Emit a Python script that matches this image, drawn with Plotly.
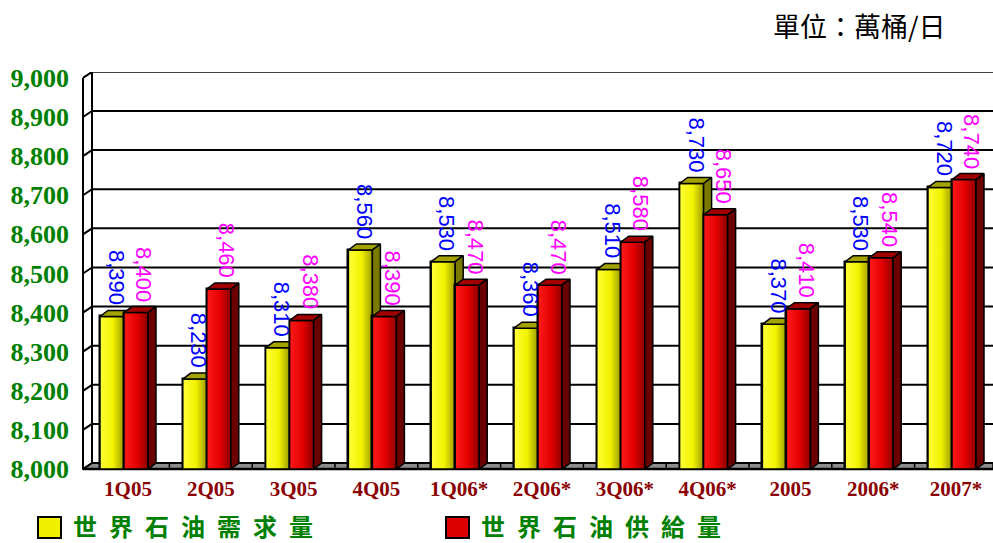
import plotly.graph_objects as go

# ---- data -------------------------------------------------------------
categories = ["1Q05", "2Q05", "3Q05", "4Q05", "1Q06*", "2Q06*", "3Q06*",
              "4Q06*", "2005", "2006*", "2007*"]
demand = [8390, 8230, 8310, 8560, 8530, 8360, 8510, 8730, 8370, 8530, 8720]
supply = [8400, 8460, 8380, 8390, 8470, 8470, 8580, 8650, 8410, 8540, 8740]
y_ticks = [8000, 8100, 8200, 8300, 8400, 8500, 8600, 8700, 8800, 8900, 9000]
series_names = ["世界石油需求量", "世界石油供給量"]
unit_text = "單位：萬桶/日"

# ---- layout geometry --------------------------------------------------
FIG_W, FIG_H = 993, 543
M_L, M_T, PLOT_H = 82, 72, 399
PLOT_W = FIG_W - M_L
M_B = FIG_H - M_T - PLOT_H
CAT_PX = 82.8                       # pixels per category
X_LO = -42 / CAT_PX
X_HI = X_LO + PLOT_W / CAT_PX
Y_LO, Y_HI = 7995, 9015
PX_PER_Y = PLOT_H / (Y_HI - Y_LO)
BASE = 8000

BAR_W = 0.29                        # width of one bar (category units)
DX = 8 / CAT_PX                     # depth offset of bars (x)
DY = 6 / PX_PER_Y                   # depth offset (y)
WALL_FRONT = X_LO + 1 / CAT_PX
WALL_BACK = WALL_FRONT + 9 / CAT_PX

EDGE = "black"


def box_faces(xs, vals, dx, dy):
    """Top and side faces of the 3-D bars as None-separated polygons."""
    top_x, top_y, side_x, side_y = [], [], [], []
    for x0, v in zip(xs, vals):
        x1 = x0 + BAR_W
        top_x += [x0, x1, x1 + dx, x0 + dx, x0, None]
        top_y += [v, v, v + dy, v + dy, v, None]
        side_x += [x1, x1, x1 + dx, x1 + dx, x1, None]
        side_y += [BASE, v, v + dy, BASE + dy, BASE, None]
    return (top_x, top_y), (side_x, side_y)


fig = go.Figure()

series = [
    dict(vals=demand, shift=-BAR_W, front="#eeee00", top="#a3a300",
         side="#7a7a00", label="#0000ff", xa="x", ya="y", lab_dx=4,
         shade=[[0, "#ffff3a"], [0.55, "#f2f200"], [1, "#9c9c00"]]),
    dict(vals=supply, shift=0.0, front="#e00000", top="#a00000",
         side="#6a0000", label="#ff00ff", xa="x2", ya="y2", lab_dx=8,
         shade=[[0, "#ff1a1a"], [0.55, "#e20000"], [1, "#8c0000"]]),
]

for s in series:
    centers = [i + s["shift"] + BAR_W / 2 for i in range(len(categories))]
    lefts = [c - BAR_W / 2 for c in centers]
    fig.add_trace(go.Bar(
        x=centers, y=[v - BASE for v in s["vals"]], base=BASE, width=BAR_W,
        marker=dict(color=s["front"], line=dict(color=EDGE, width=1.5)),
        xaxis=s["xa"], yaxis=s["ya"], showlegend=False, hoverinfo="skip"))
    # shaded front faces, one per bar so each gets its own gradient
    for x0, v in zip(lefts, s["vals"]):
        x1 = x0 + BAR_W
        fig.add_trace(go.Scatter(
            x=[x0, x1, x1, x0, x0], y=[BASE, BASE, v, v, BASE],
            mode="lines", fill="toself",
            fillgradient=dict(type="horizontal", colorscale=s["shade"],
                              start=x0, stop=x1),
            line=dict(color=EDGE, width=1.5), xaxis=s["xa"], yaxis=s["ya"],
            showlegend=False, hoverinfo="skip"))
    (tx, ty), (sx, sy) = box_faces(lefts, s["vals"], DX, DY)
    fig.add_trace(go.Scatter(
        x=tx, y=ty, mode="lines", fill="toself", fillcolor=s["top"],
        line=dict(color=EDGE, width=1.5), xaxis=s["xa"], yaxis=s["ya"],
        showlegend=False, hoverinfo="skip"))
    fig.add_trace(go.Scatter(
        x=sx, y=sy, mode="lines", fill="toself", fillcolor=s["side"],
        line=dict(color=EDGE, width=1.5), xaxis=s["xa"], yaxis=s["ya"],
        showlegend=False, hoverinfo="skip"))
    for c, v in zip(centers, s["vals"]):
        fig.add_annotation(
            x=c, y=v, xref=s["xa"], yref=s["ya"], text=f"{v:,}",
            textangle=90, showarrow=False, xanchor="center", yanchor="bottom",
            xshift=s["lab_dx"], yshift=9,
            font=dict(family="Liberation Sans, Arial", size=22,
                      color=s["label"]))

# ---- walls, floor and gridlines ----------------------------------------
shapes = []
line_k = dict(color=EDGE, width=2)
shapes.append(dict(type="path", xref="x", yref="y", layer="below",
                   path=(f"M{WALL_FRONT},{BASE} L{X_HI},{BASE} "
                         f"L{X_HI},{BASE + DY} L{WALL_BACK},{BASE + DY} Z"),
                   fillcolor="#8c8c8c", line=dict(color=EDGE, width=1.5)))
for t in y_ticks:
    shapes.append(dict(type="line", xref="x", yref="y", layer="below",
                       x0=WALL_BACK, x1=X_HI, y0=t + DY, y1=t + DY,
                       line=line_k))
    shapes.append(dict(type="line", xref="x", yref="y", layer="below",
                       x0=WALL_FRONT, x1=WALL_BACK, y0=t, y1=t + DY,
                       line=line_k))
shapes.append(dict(type="line", xref="x", yref="y", layer="below",
                   x0=WALL_FRONT, x1=WALL_FRONT, y0=BASE, y1=Y_HI - DY,
                   line=line_k))
shapes.append(dict(type="line", xref="x", yref="y", layer="below",
                   x0=WALL_BACK, x1=WALL_BACK, y0=BASE + DY, y1=Y_HI,
                   line=line_k))
shapes.append(dict(type="line", xref="x", yref="y", layer="below",
                   x0=WALL_FRONT, x1=X_HI, y0=BASE, y1=BASE,
                   line=dict(color=EDGE, width=2.5)))
for i in range(len(categories) - 1):
    xm = i + 0.5 + 4 / CAT_PX
    shapes.append(dict(type="line", xref="x", yref="y", layer="below",
                       x0=xm, x1=xm, y0=BASE + DY * 0.2, y1=BASE + DY,
                       line=dict(color=EDGE, width=1.5)))


# ---- legend drawn in page pixels -----------------------------------------
def px_x(p):
    return (p - M_L) / PLOT_W


def px_y(p):
    return (M_T + PLOT_H - p) / PLOT_H


legend_items = [(38, "#f0f000", series_names[0]),
                (446, "#dd0000", series_names[1])]
for x_px, col, name in legend_items:
    shapes.append(dict(type="rect", xref="paper", yref="paper",
                       x0=px_x(x_px), x1=px_x(x_px + 23),
                       y0=px_y(538), y1=px_y(517),
                       fillcolor=col, line=dict(color=EDGE, width=2)))
    fig.add_annotation(
        x=px_x(x_px + 33), y=px_y(525), xref="paper", yref="paper",
        text="\u2002".join(name), showarrow=False, xanchor="left",
        yanchor="middle",
        font=dict(family="Noto Sans CJK TC", size=24, color="#008000",
                  weight="bold"))

fig.add_annotation(
    x=px_x(948), y=px_y(26), xref="paper", yref="paper", text=unit_text,
    showarrow=False, xanchor="right", yanchor="middle",
    font=dict(family="Noto Sans CJK TC", size=27, color="black"))

axis_common = dict(showgrid=False, zeroline=False, showline=False)
fig.update_layout(
    width=FIG_W, height=FIG_H,
    margin=dict(l=M_L, r=0, t=M_T, b=M_B, pad=0),
    paper_bgcolor="white", plot_bgcolor="white",
    shapes=shapes, bargap=0, showlegend=False,
    xaxis=dict(range=[X_LO, X_HI], tickmode="array",
               tickvals=[i + 4 / CAT_PX for i in range(len(categories))],
               ticktext=categories, ticks="", ticklabelstandoff=3,
               tickfont=dict(family="Liberation Serif", size=21,
                             color="#8b0000", weight="bold"),
               **axis_common),
    yaxis=dict(range=[Y_LO, Y_HI], tickmode="array", tickvals=y_ticks,
               ticktext=[f"{t:,}" for t in y_ticks], ticks="",
               ticklabelstandoff=12,
               tickfont=dict(family="Liberation Serif", size=26,
                             color="#008000", weight="bold"),
               **axis_common),
    xaxis2=dict(range=[X_LO, X_HI], overlaying="x", visible=False,
                **axis_common),
    yaxis2=dict(range=[Y_LO, Y_HI], overlaying="y", visible=False,
                **axis_common),
)

fig.write_html("out.html")
